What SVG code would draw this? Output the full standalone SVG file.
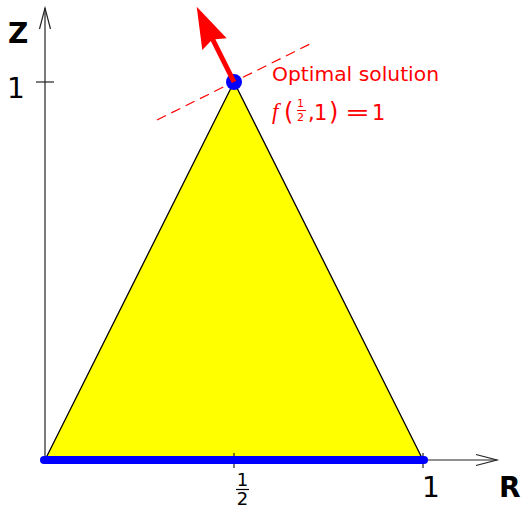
<svg xmlns="http://www.w3.org/2000/svg" width="522" height="510" viewBox="0 0 522 510">
<style>
.ax{stroke:#222;stroke-width:1.2;fill:none}
.lbl{font-family:"DejaVu Sans",sans-serif;fill:#000}
.bold{font-weight:bold}
.red{fill:#ff0000;font-family:"DejaVu Sans",sans-serif}
</style>
<rect width="522" height="510" fill="#fff"/>
<g id="region">
<polygon points="45,460 234,82 423,460" fill="#ffff00" stroke="#000" stroke-width="1.3" stroke-linejoin="round"/>
</g>
<g id="connectors">
<line class="ax" x1="45" y1="462" x2="45" y2="8"/>
<polyline class="ax" points="39.5,29 45,8 50.5,29"/>
<line class="ax" x1="45" y1="460" x2="497" y2="460"/>
<polyline class="ax" points="476,454.5 497,460 476,465.5"/>
<line class="ax" x1="36" y1="82" x2="54" y2="82"/>
<line class="ax" x1="234" y1="453" x2="234" y2="468"/>
<line class="ax" x1="423" y1="453" x2="423" y2="468"/>
<line x1="157" y1="120" x2="312" y2="43" stroke="#ff0000" stroke-width="1.2" stroke-dasharray="10,6"/>
</g>
<g id="feasible-segment">
<line x1="44" y1="460" x2="424" y2="460" stroke="#0000ff" stroke-width="8" stroke-linecap="round"/>
</g>
<g id="optimum">
<circle cx="234" cy="82" r="8" fill="#0000ff"/>
</g>
<g id="gradient-arrow">
<line x1="234" y1="82" x2="212.5" y2="39" stroke="#ff0000" stroke-width="5"/>
<polygon points="196.7,6.7 226.7,38.3 212.3,39.5 202.3,50" fill="#ff0000"/>
</g>
<g id="axis-labels">
<text class="lbl bold" x="8" y="43" font-size="28">Z</text>
<text class="lbl" x="7" y="98" font-size="28">1</text>
<text class="lbl bold" x="499" y="497" font-size="28">R</text>
<text class="lbl" x="422" y="497" font-size="28">1</text>
<text class="lbl" x="242.5" y="486" font-size="18" text-anchor="middle">1</text>
<line x1="236" y1="489.5" x2="249" y2="489.5" stroke="#000" stroke-width="1.2"/>
<text class="lbl" x="242.5" y="505" font-size="18" text-anchor="middle">2</text>
</g>
<g id="optimal-label">
<text class="red" x="272" y="81" font-size="20" textLength="167" lengthAdjust="spacingAndGlyphs">Optimal solution</text>
<text x="272" y="119" font-size="23" font-style="italic" fill="#ff0000" font-family="'Liberation Serif',serif">f</text>
<text class="red" x="284" y="120" font-size="24">(</text>
<text class="red" x="300.5" y="107" font-size="11" text-anchor="middle">1</text>
<line x1="297" y1="110.5" x2="306" y2="110.5" stroke="#ff0000" stroke-width="1"/>
<text class="red" x="300.5" y="121" font-size="11" text-anchor="middle">2</text>
<text class="red" x="308" y="120" font-size="21">,</text>
<text class="red" x="314" y="120" font-size="21">1</text>
<text class="red" x="329" y="120" font-size="24">)</text>
<text class="red" x="345" y="120" font-size="21" textLength="25" lengthAdjust="spacingAndGlyphs">=</text>
<text class="red" x="372" y="120" font-size="21">1</text>
</g>
</svg>
